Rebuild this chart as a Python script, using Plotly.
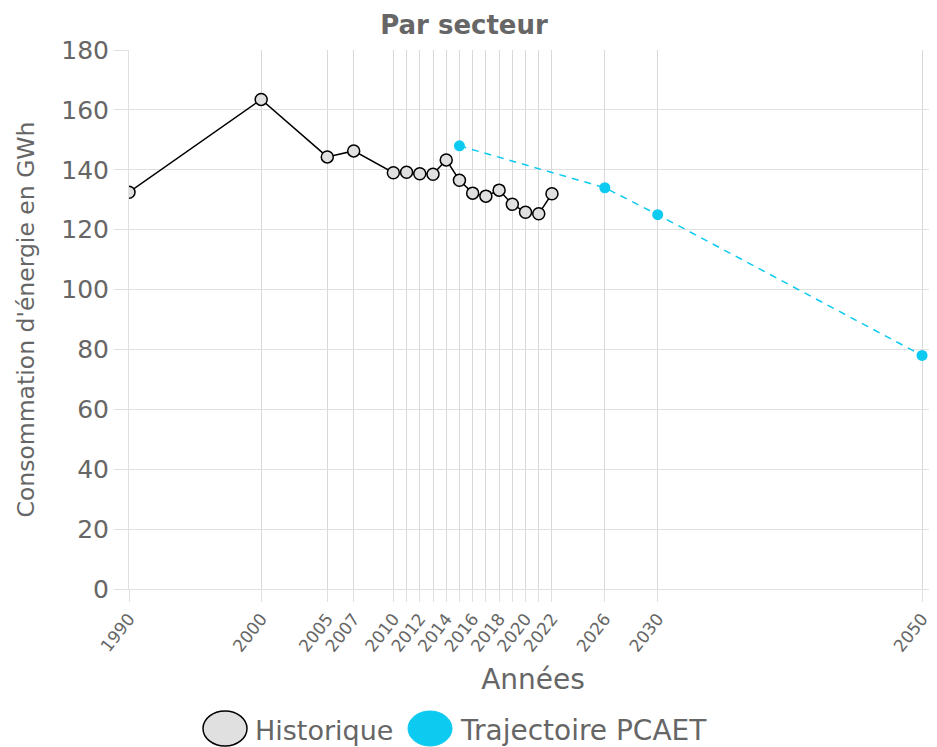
import plotly.graph_objects as go

hist_years = [1990, 2000, 2005, 2007, 2010, 2011, 2012, 2013, 2014, 2015, 2016, 2017, 2018, 2019, 2020, 2021, 2022]
hist_values = [132.5, 163.5, 144.3, 146.3, 139.0, 139.2, 138.7, 138.5, 143.3, 136.5, 132.2, 131.2, 133.2, 128.5, 125.8, 125.3, 132.0]

traj_years = [2015, 2026, 2030, 2050]
traj_values = [148.0, 134.0, 125.0, 78.0]

tick_years = [1990, 2000, 2005, 2007, 2010, 2011, 2012, 2013, 2014, 2015, 2016, 2017, 2018, 2019,
              2020, 2021, 2022, 2026, 2030, 2050]
tick_labels = ["1990", "2000", "2005", "2007", "2010", "", "2012", "", "2014", "", "2016", "", "2018", "",
               "2020", "", "2022", "2026", "2030", "2050"]

CYAN = "#0dcaf0"
GRAY = "#666666"
GRID = "#e0e0e0"
FONT = "DejaVu Sans, Liberation Sans, Arial, sans-serif"

# The page body has an 8px margin, so the figure is 8px smaller than the window
W, H = 929, 739
ML, MT = 121, 42
PW, PH = 808, 539

fig = go.Figure()
fig.add_trace(go.Scatter(
    x=hist_years, y=hist_values, mode="lines+markers", name="Historique",
    line=dict(color="black", width=1.5),
    marker=dict(size=12, color="#e0e0e0", line=dict(color="black", width=1.5)),
    showlegend=False,
))
fig.add_trace(go.Scatter(
    x=traj_years, y=traj_values, mode="lines+markers", name="Trajectoire PCAET",
    line=dict(color=CYAN, width=1.5, dash="7px,6px"),
    marker=dict(size=11, color=CYAN),
    showlegend=False,
))

fig.update_layout(
    width=W, height=H,
    paper_bgcolor="white", plot_bgcolor="white",
    margin=dict(l=ML, r=W - ML - PW, t=MT, b=H - MT - PH, autoexpand=False),
    font=dict(family=FONT, color=GRAY),
    title=dict(text="<b>Par secteur</b>", x=456 / W, xanchor="center", y=1 - 17 / H, yanchor="middle",
               font=dict(size=26, color=GRAY, family=FONT)),
    xaxis=dict(
        range=[1990, 2051.13], tickmode="array", tickvals=tick_years, ticktext=tick_labels,
        tickangle=-52, tickfont=dict(size=17, color=GRAY),
        showgrid=True, gridcolor="#d9d9d9", gridwidth=1,
        ticks="outside", ticklen=12, tickcolor=GRID, zeroline=False,
        showline=True, linecolor=GRID, linewidth=1,
        title=dict(text="Années", font=dict(size=28, color=GRAY), standoff=14),
    ),
    yaxis=dict(
        range=[0, 180], tickvals=list(range(0, 181, 20)), tickfont=dict(size=25, color=GRAY),
        showgrid=True, gridcolor=GRID, gridwidth=1, ticks="outside", ticklen=14, tickcolor=GRID,
        zeroline=False, showline=True, linecolor=GRID, linewidth=1,
        title=dict(text="Consommation d'énergie en GWh", font=dict(size=23.5, color=GRAY), standoff=20),
    ),
)

# Legend drawn with shapes and annotations (large legend symbols)
def px_x(x):
    return (x - 129) / PW

def px_y(y):
    return (589 - y) / PH

fig.add_shape(type="circle", xref="paper", yref="paper",
              x0=px_x(203), x1=px_x(247), y0=px_y(746), y1=px_y(711),
              fillcolor="#e0e0e0", line=dict(color="black", width=1.5))
fig.add_annotation(xref="paper", yref="paper", x=px_x(253), y=px_y(730),
                   text="Historique", showarrow=False, xanchor="left", yanchor="middle",
                   font=dict(size=27, color=GRAY, family=FONT))
fig.add_shape(type="circle", xref="paper", yref="paper",
              x0=px_x(408), x1=px_x(452), y0=px_y(746), y1=px_y(711),
              fillcolor=CYAN, line=dict(color=CYAN, width=1))
fig.add_annotation(xref="paper", yref="paper", x=px_x(458), y=px_y(730),
                   text="Trajectoire PCAET", showarrow=False, xanchor="left", yanchor="middle",
                   font=dict(size=28, color=GRAY, family=FONT))

fig.write_html("out.html")
